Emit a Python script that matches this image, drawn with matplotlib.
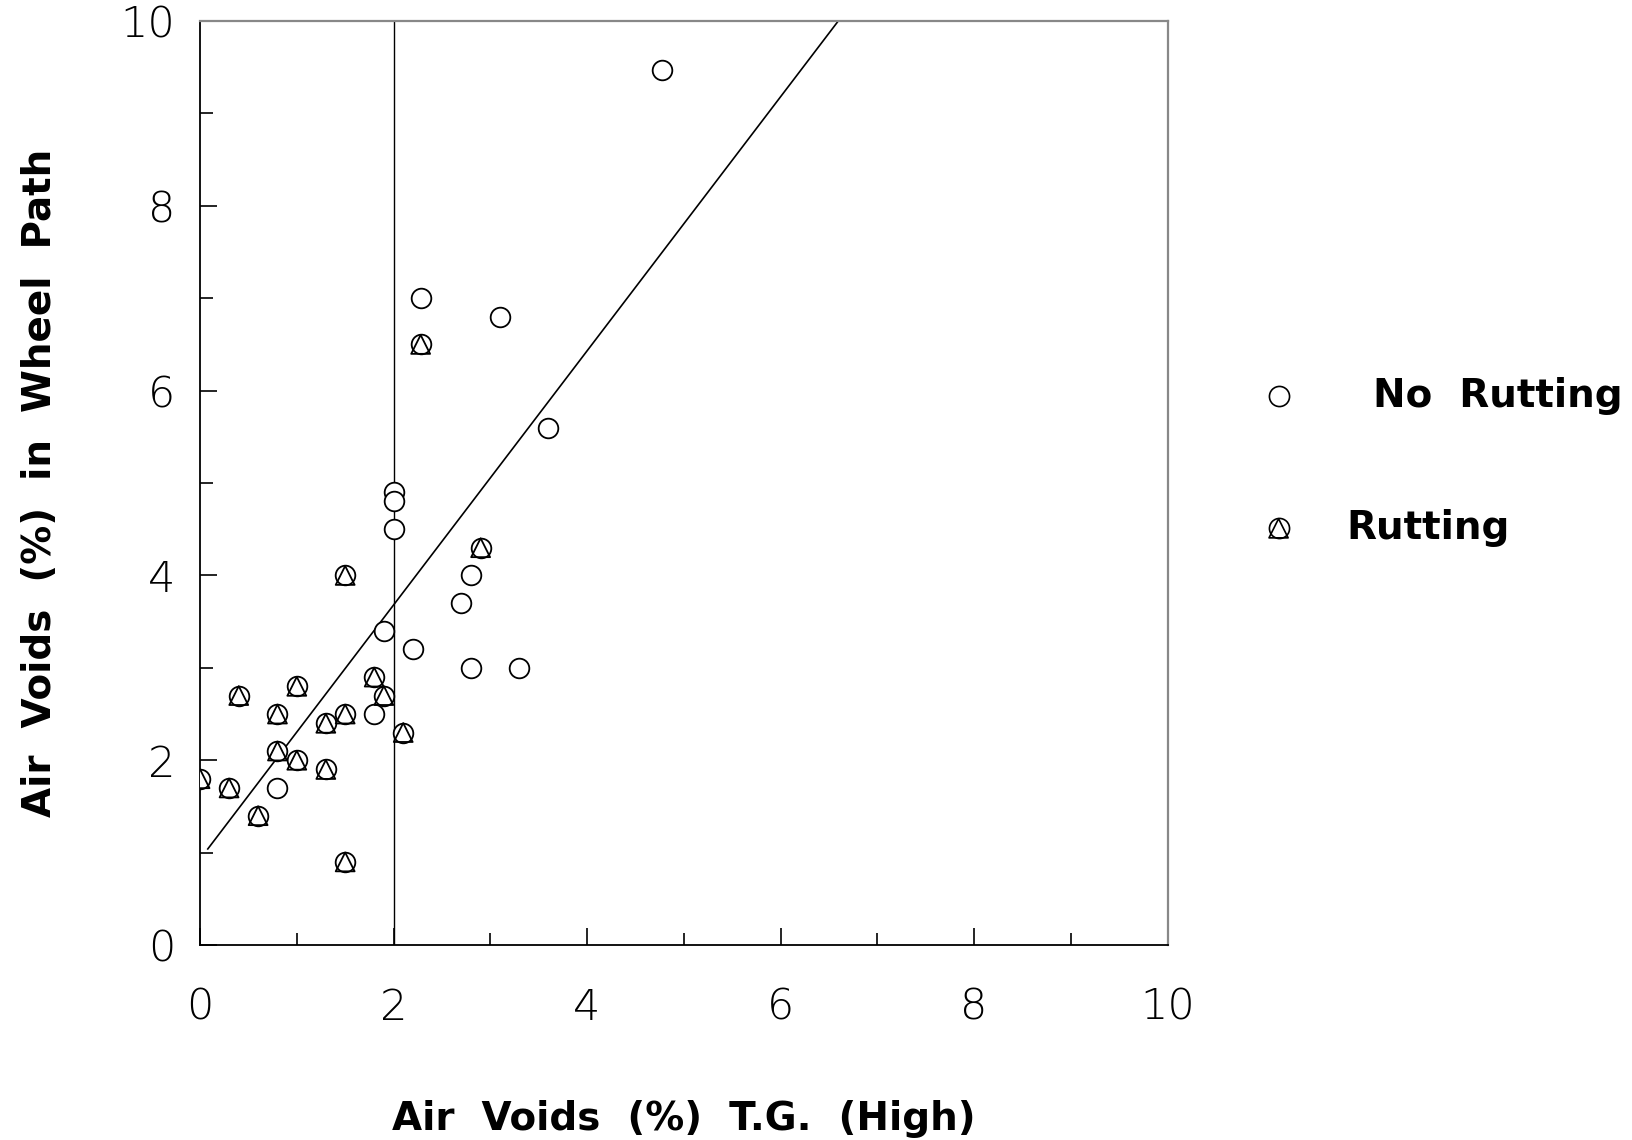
import numpy as np
import matplotlib
matplotlib.use('Agg')
import matplotlib.pyplot as plt

# No Rutting sections (circles)
no_rut_x = [4.77, 2.28, 3.1, 3.6, 2.0, 2.0, 2.0, 2.8, 2.7, 1.9, 2.2, 2.8, 3.3, 1.8, 0.8]
no_rut_y = [9.47, 7.0, 6.8, 5.6, 4.9, 4.8, 4.5, 4.0, 3.7, 3.4, 3.2, 3.0, 3.0, 2.5, 1.7]

# Rutting sections (circle with triangle)
rut_x = [2.28, 2.9, 1.5, 1.8, 1.9, 0.4, 1.0, 0.8, 1.3, 1.5, 2.1, 0.8, 1.0, 1.3, 0.0, 0.3, 0.6, 1.5]
rut_y = [6.5, 4.3, 4.0, 2.9, 2.7, 2.7, 2.8, 2.5, 2.4, 2.5, 2.3, 2.1, 2.0, 1.9, 1.8, 1.7, 1.4, 0.9]

# fitted line and threshold
fit_slope = 1.375
fit_intercept = 0.93
fit_x_range = [0.08, 6.6]
threshold_x = 2.0

xticks = [0, 2, 4, 6, 8, 10]
yticks = [0, 2, 4, 6, 8, 10]

tick_font = ['Liberation Sans Narrow', 'DejaVu Sans']
label_font = ['DejaVu Sans']

fig = plt.figure(figsize=(16.33, 11.40), dpi=100)
ax = fig.add_axes([0.1225, 0.171, 0.5925, 0.8106])

ax.set_xlim(0, 10)
ax.set_ylim(0, 10)

# threshold line and regression line
ax.plot([threshold_x, threshold_x], [0, 10], color='black', lw=1.0)
fx = np.array(fit_x_range)
ax.plot(fx, fit_intercept + fit_slope * fx, color='black', lw=1.2)

# points
ax.scatter(no_rut_x, no_rut_y, s=200, marker='o', facecolors='white',
           edgecolors='black', linewidths=1.3, zorder=3)
ax.scatter(rut_x, rut_y, s=200, marker='o', facecolors='white',
           edgecolors='black', linewidths=1.3, zorder=3)
ax.scatter(rut_x, rut_y, s=185, marker='^', facecolors='none',
           edgecolors='black', linewidths=1.3, zorder=4)

# ticks
ax.set_xticks(xticks)
ax.set_yticks(yticks)
ax.set_xticks(range(1, 10, 2), minor=True)
ax.set_yticks(range(1, 10, 2), minor=True)
ax.tick_params(which='major', direction='in', length=12, width=1.2)
ax.tick_params(which='minor', direction='in', length=9, width=1.2)
ax.tick_params(axis='x', which='major', pad=30)
ax.tick_params(axis='y', which='major', pad=18)
for lab in ax.get_xticklabels() + ax.get_yticklabels():
    lab.set_family(tick_font)
    lab.set_fontsize(31)
    lab.set_fontweight('light')

for side in ['left', 'bottom']:
    ax.spines[side].set_color('black')
    ax.spines[side].set_linewidth(1.3)
for side in ['top', 'right']:
    ax.spines[side].set_color('#888888')
    ax.spines[side].set_linewidth(1.6)

ax.set_xlabel('Air  Voids  (%)  T.G.  (High)', family=label_font,
              fontsize=28, fontweight='bold', labelpad=52)
ax.set_ylabel('Air  Voids  (%)  in  Wheel  Path', family=label_font,
              fontsize=28, fontweight='bold', labelpad=44)

# legend keys drawn beside the axes
ax.scatter([1.1147], [0.594], s=210, marker='o', facecolors='white', edgecolors='black',
           linewidths=1.2, transform=ax.transAxes, clip_on=False)
ax.scatter([1.1147], [0.451], s=210, marker='o', facecolors='white', edgecolors='black',
           linewidths=1.2, transform=ax.transAxes, clip_on=False)
ax.scatter([1.1147], [0.451], s=190, marker='^', facecolors='none', edgecolors='black',
           linewidths=1.2, transform=ax.transAxes, clip_on=False)
fig.text(0.8408, 0.6526, 'No  Rutting', family=label_font, fontsize=28,
         fontweight='bold', va='center', ha='left')
fig.text(0.8243, 0.5368, 'Rutting', family=label_font, fontsize=28,
         fontweight='bold', va='center', ha='left')

fig.savefig('out.png', dpi=100, facecolor='white')
